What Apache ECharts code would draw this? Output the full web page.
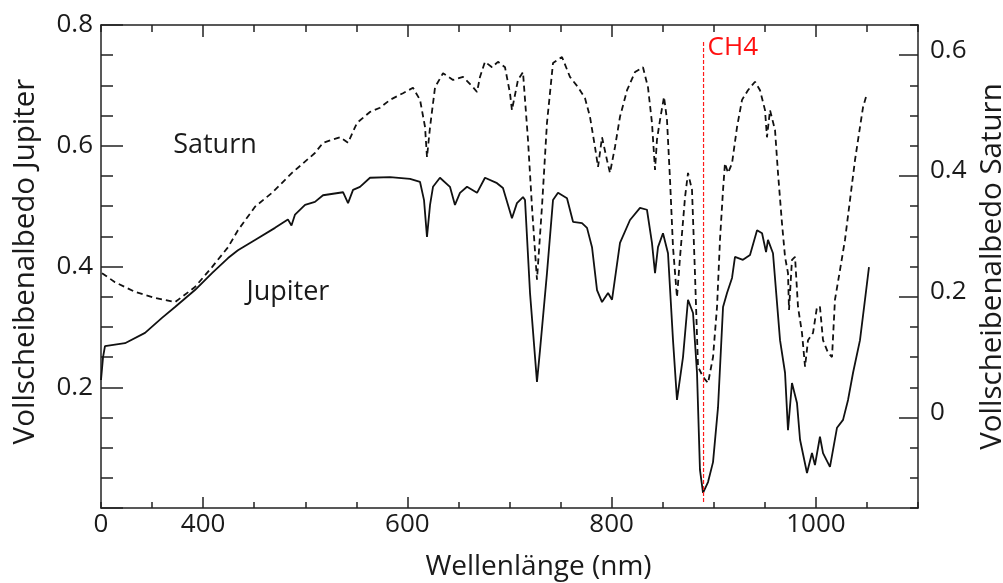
<!DOCTYPE html>
<html><head><meta charset="utf-8">
<script src="https://cdn.jsdelivr.net/npm/echarts@6/dist/echarts.min.js"></script>
<style>html,body{margin:0;padding:0;background:#fff}#c{width:1003px;height:583px}</style>
</head><body><div id="c"></div>
<script>
// Jupiter full-disk albedo (left axis)
const jupiterWavelength = [300,302,303.9,323.5,343.1,359.7,372.5,392.0,408.7,424.4,434.1,450.8,470.4,483.0,486.5,490.0,499.8,509.5,517.4,537.0,541.9,546.8,553.6,563.4,583.0,602.6,612.4,616.3,619.2,622.2,625.1,631.9,641.7,646.6,651.5,658.4,668.2,676.0,687.8,693.6,702.4,707.3,713.2,715.2,720.1,726.9,729.9,736.7,742.6,747.5,756.3,762.2,771.0,775.9,780.8,785.7,790.6,796.5,800.4,808.2,818.0,827.8,834.6,839.5,842.5,845.4,850.3,855.2,860.1,864.0,869.9,874.8,879.7,883.6,886.5,889.5,894.4,899.3,904.2,909.1,913.0,917.9,920.8,928.6,935.5,942.4,947.3,951.2,953.1,958.0,964.9,969.8,972.7,976.6,981.5,984.5,991.3,996.2,999.1,1004.0,1007.0,1013.8,1020.7,1026.6,1031.5,1036.4,1043.2,1048.1,1052.0];
const jupiterAlbedo = [0.212,0.250,0.268,0.273,0.290,0.315,0.333,0.361,0.389,0.414,0.427,0.444,0.464,0.478,0.468,0.486,0.502,0.507,0.518,0.523,0.505,0.527,0.532,0.547,0.548,0.545,0.540,0.510,0.449,0.502,0.532,0.547,0.532,0.502,0.522,0.532,0.522,0.547,0.538,0.530,0.480,0.505,0.515,0.510,0.356,0.209,0.262,0.389,0.510,0.522,0.513,0.474,0.472,0.464,0.432,0.361,0.341,0.356,0.345,0.439,0.477,0.497,0.494,0.439,0.389,0.432,0.455,0.422,0.278,0.179,0.250,0.345,0.323,0.224,0.063,0.025,0.043,0.076,0.167,0.333,0.356,0.381,0.416,0.411,0.419,0.460,0.455,0.424,0.444,0.422,0.278,0.224,0.129,0.207,0.174,0.113,0.058,0.091,0.071,0.118,0.091,0.068,0.133,0.146,0.179,0.224,0.278,0.345,0.399];
// Saturn full-disk albedo (right axis)
const saturnWavelength = [301.0,313.7,333.3,352.9,372.5,392.0,408.7,424.4,434.1,450.8,467.4,487.0,509.5,517.4,534.0,541.9,550.7,563.4,573.2,583.0,595.7,605.5,612.4,617.3,619.2,622.2,627.1,634.9,644.7,654.5,664.3,668.2,671.1,676.0,682.9,688.7,695.6,700.5,702.4,708.3,713.2,718.1,722.0,726.9,731.8,736.7,742.6,751.4,759.2,767.1,773.9,778.8,783.7,786.7,790.6,795.5,798.4,803.3,808.2,815.1,822.9,830.7,835.6,839.5,842.5,844.4,847.4,851.3,854.2,857.2,860.1,864.0,867.0,871.9,874.8,878.7,881.6,884.6,889.5,894.4,899.3,903.2,906.1,909.1,911.0,914.0,917.9,922.8,927.7,933.5,940.4,945.3,950.2,952.1,955.1,960.0,962.9,966.8,969.8,972.7,973.7,976.6,979.6,982.5,986.4,989.4,992.3,997.2,1001.1,1004.0,1007.0,1011.9,1015.8,1018.7,1023.6,1028.5,1033.4,1038.3,1043.2,1046.2,1050.1];
const saturnAlbedo = [0.239,0.224,0.208,0.198,0.191,0.216,0.249,0.282,0.310,0.349,0.372,0.405,0.438,0.455,0.464,0.455,0.488,0.506,0.513,0.526,0.537,0.546,0.526,0.481,0.431,0.481,0.547,0.570,0.559,0.564,0.547,0.539,0.564,0.589,0.580,0.589,0.580,0.537,0.509,0.559,0.572,0.460,0.349,0.228,0.349,0.488,0.587,0.597,0.564,0.547,0.529,0.498,0.448,0.415,0.464,0.426,0.405,0.448,0.498,0.542,0.572,0.580,0.547,0.488,0.410,0.460,0.493,0.531,0.493,0.393,0.282,0.199,0.266,0.365,0.405,0.377,0.239,0.084,0.067,0.057,0.100,0.183,0.294,0.377,0.421,0.405,0.421,0.481,0.526,0.542,0.556,0.542,0.509,0.464,0.509,0.476,0.405,0.322,0.266,0.239,0.178,0.261,0.266,0.183,0.140,0.084,0.128,0.140,0.183,0.183,0.128,0.107,0.100,0.195,0.244,0.294,0.360,0.426,0.481,0.514,0.537];
// Tick labels
const xTickLabels = [300,400,600,800,1000];
const xMajorTicks = [400,600,800,1000];
const leftTickLabels = [0.2,0.4,0.6,0.8];
const rightTickLabels = [0,0.2,0.4,0.6];
// CH4 marker line
const ch4Wavelength = [890,890];
const ch4Albedo = [0.01,0.775];

// minor tick positions (axis decoration)
const steps = (a,b,s) => { const r=[]; for(let i=0;a+i*s<=b+1e-9;i++) r.push(+(a+i*s).toFixed(4)); return r; };
const xMinorTicks = steps(300,1100,50);
const leftMinorTicks = steps(0,0.8,0.05);
const rightMinorTicks = steps(-0.15,0.65,0.05);

const FONT = "'Open Sans', sans-serif";
const INK = '#1a1a1a';
const zip = (a,b) => a.map((v,i)=>[v,b[i]]);

const chart = echarts.init(document.getElementById('c'), null, {renderer:'canvas'});
const axisLine = {show:true, onZero:false, lineStyle:{color:'#222', width:1.5}};
const noLine = {show:false, onZero:false};
const tickStyle = {color:'#222', width:1.5};
const xBase = {type:'value',min:300,max:1100,splitLine:{show:false}};
const lBase = {type:'value',min:0,max:0.8,position:'left',splitLine:{show:false}};
const rBase = {type:'value',min:-0.15,max:0.65,position:'right',splitLine:{show:false}};
chart.setOption({
  animation:false,
  backgroundColor:'#fff',
  grid:{left:101,right:85,top:25,bottom:75,containLabel:false,outerBoundsMode:'none'},
  xAxis:[
    Object.assign({},xBase,{position:'bottom',axisLine:axisLine,
     axisTick:{inside:true,length:6,customValues:xMinorTicks,lineStyle:tickStyle},
     axisLabel:{customValues:xTickLabels,formatter:v=>v===300?'0':String(v),fontSize:26,color:INK,fontFamily:FONT,margin:4},
     name:'Wellenlänge (nm)',nameLocation:'middle',nameGap:45,
     nameTextStyle:{fontSize:28,color:INK,fontFamily:FONT,padding:[0,0,0,58]}}),
    Object.assign({},xBase,{position:'bottom',axisLine:noLine,
     axisTick:{inside:true,length:11,customValues:xMajorTicks,lineStyle:tickStyle},axisLabel:{show:false}}),
    Object.assign({},xBase,{position:'top',axisLine:axisLine,
     axisTick:{inside:true,length:7,customValues:xMinorTicks,lineStyle:tickStyle},axisLabel:{show:false}}),
    Object.assign({},xBase,{position:'top',axisLine:noLine,
     axisTick:{inside:true,length:12,customValues:xMajorTicks,lineStyle:tickStyle},axisLabel:{show:false}})
  ],
  yAxis:[
    Object.assign({},lBase,{axisLine:axisLine,
     axisTick:{inside:true,length:12,customValues:leftMinorTicks,lineStyle:tickStyle},
     axisLabel:{customValues:leftTickLabels,formatter:v=>v.toFixed(1),fontSize:26,color:INK,fontFamily:FONT,margin:8},
     name:'Vollscheibenalbedo Jupiter',nameLocation:'middle',nameRotate:90,nameGap:60,
     nameTextStyle:{fontSize:29.5,color:INK,fontFamily:FONT,padding:[0,0,0,10]}}),
    Object.assign({},rBase,{axisLine:axisLine,
     axisTick:{inside:true,length:8,customValues:rightMinorTicks,lineStyle:tickStyle},
     axisLabel:{customValues:rightTickLabels,formatter:v=>Math.abs(v)<1e-9?'0':v.toFixed(1),fontSize:26,color:INK,fontFamily:FONT,margin:12,verticalAlign:'bottom',lineHeight:10},
     name:'Vollscheibenalbedo Saturn',nameLocation:'middle',nameRotate:90,nameGap:54,
     nameTextStyle:{fontSize:29.5,color:INK,fontFamily:FONT}}),
    Object.assign({},lBase,{axisLine:noLine,
     axisTick:{inside:true,length:22,customValues:leftTickLabels.concat([0]),lineStyle:tickStyle},axisLabel:{show:false}}),
    Object.assign({},rBase,{axisLine:noLine,
     axisTick:{inside:true,length:19,customValues:rightTickLabels,lineStyle:tickStyle},axisLabel:{show:false}})
  ],
  series:[
    {name:'Jupiter',type:'line',xAxisIndex:0,yAxisIndex:0,data:zip(jupiterWavelength,jupiterAlbedo),
     showSymbol:false,symbol:'none',lineStyle:{color:'#111',width:1.8},z:3},
    {name:'Saturn',type:'line',xAxisIndex:0,yAxisIndex:1,data:zip(saturnWavelength,saturnAlbedo),
     showSymbol:false,symbol:'none',lineStyle:{color:'#111',width:1.8,type:[6,4]},z:3},
    {name:'CH4',type:'line',xAxisIndex:0,yAxisIndex:0,data:zip(ch4Wavelength,ch4Albedo),
     showSymbol:false,symbol:'none',lineStyle:{color:'#ff1a1a',width:1.2,type:[4,2]},z:4},
    {type:'scatter',xAxisIndex:0,yAxisIndex:0,symbolSize:0,silent:true,z:5,
     itemStyle:{opacity:1,color:'rgba(0,0,0,0)'},
     label:{show:true,formatter:'{b}',position:'inside',fontSize:27,color:INK,fontFamily:FONT,opacity:1},
     data:[
       {name:'Saturn',value:[411.6,0.601]},
       {name:'Jupiter',value:[483,0.358]},
       {name:'CH4',value:[894,0.763],label:{position:'right',distance:0,color:'#ff1010',fontSize:26}}
     ]}
  ]
});
</script></body></html>
